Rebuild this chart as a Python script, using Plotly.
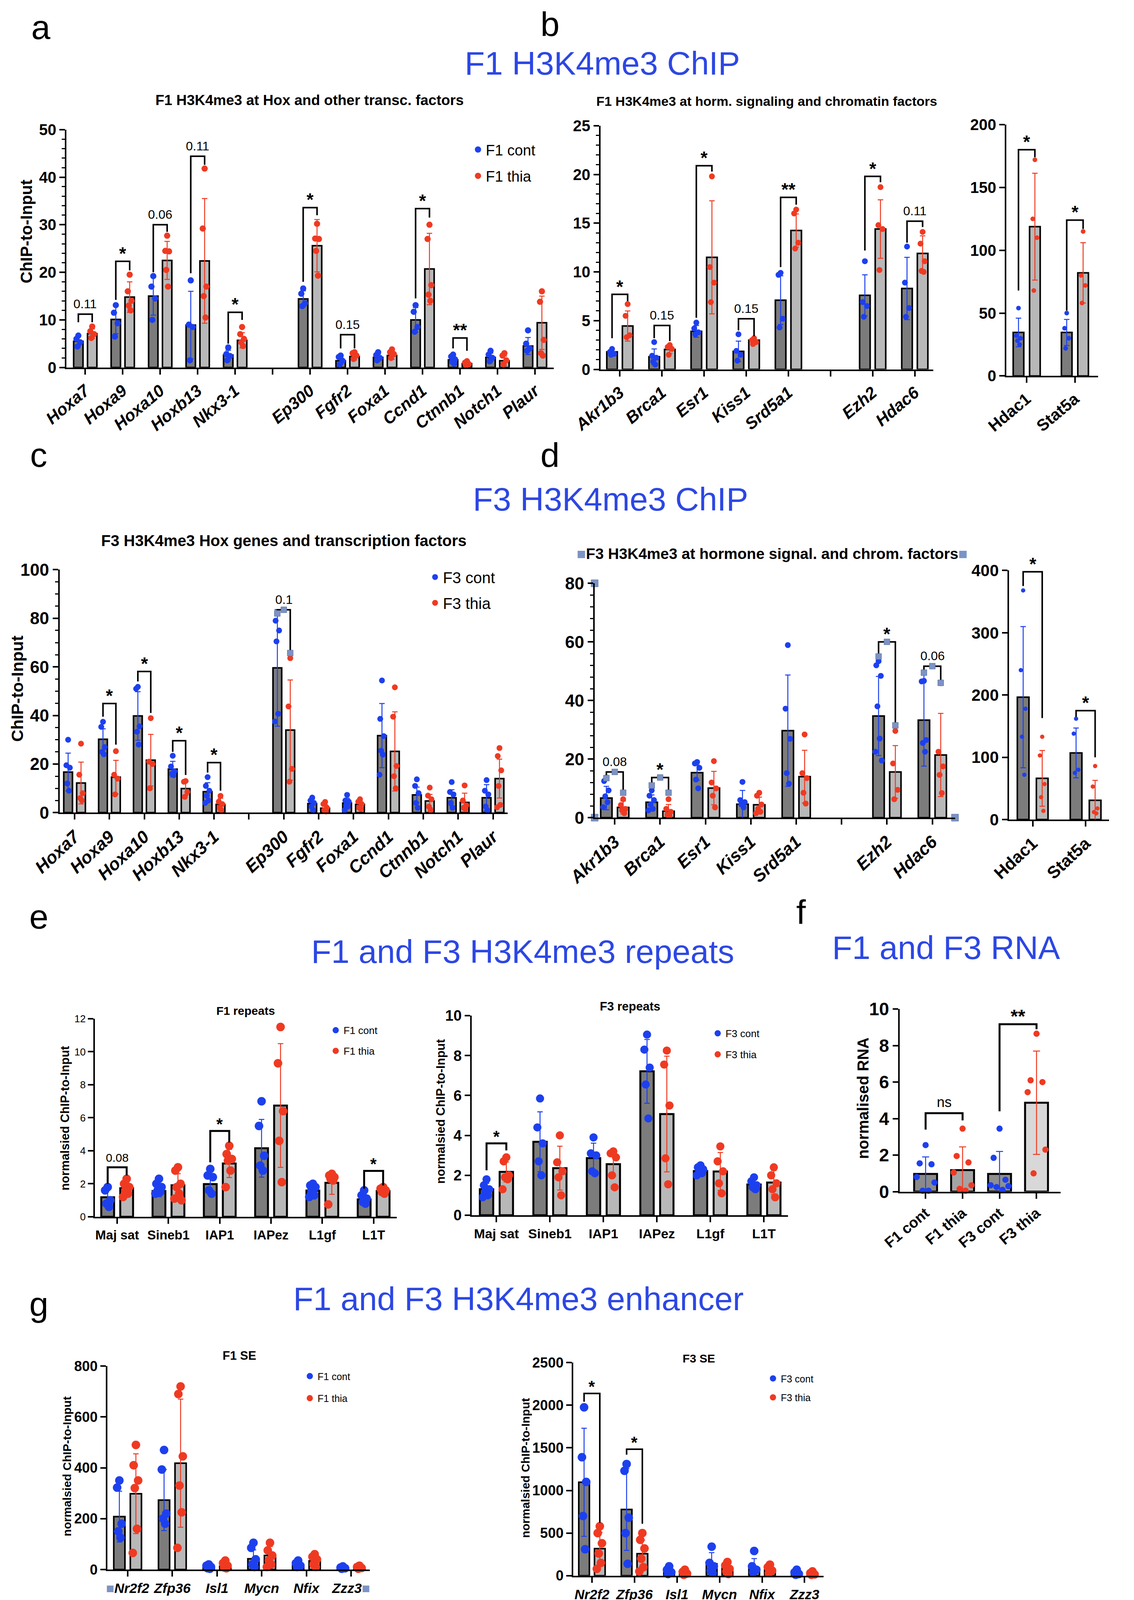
import plotly.graph_objects as go

W, H = 2904, 4146
# the photographed page comes out about 1% larger and offset by the page margin,
# so reference pixel positions are mapped back through this before use
S, O = 1.01, 8
FONT = "Liberation Sans, Arial, sans-serif"
NARROW = "Liberation Sans Narrow, Liberation Sans, Arial, sans-serif"
BLUE = "#1d40ee"
RED = "#ef3a22"
DARK = "#7c7c7c"
LIGHT = "#b8b8b8"
HEAD = "#2c47e4"
HANDLE = "#7c93c4"

# ---------------- a: F1 Hox and other transcription factors
a_genes = ["Hoxa7", "Hoxa9", "Hoxa10", "Hoxb13", "Nkx3-1", "",
           "Ep300", "Fgfr2", "Foxa1", "Ccnd1", "Ctnnb1", "Notch1", "Plaur"]
a_cont = [5.5, 10.1, 15.0, 8.9, 2.6, None, 14.4, 1.4, 2.1, 10.0, 1.6, 2.1, 4.5]
a_cont_sd = [1.0, 3.0, 4.0, 7.1, 1.0, None, 1.7, 0.8, 0.7, 2.6, 0.8, 0.9, 1.8]
a_thia = [7.1, 14.8, 22.5, 22.4, 5.7, None, 25.6, 2.3, 2.5, 20.7, 0.8, 1.4, 9.4]
a_thia_sd = [1.0, 3.2, 4.0, 13.1, 1.6, None, 5.5, 0.7, 0.8, 7.5, 0.35, 1.0, 5.6]
a_cont_pts = [[6.7, 6.0, 5.3, 4.4], [13.1, 11.5, 9.3, 6.5], [19.2, 17.0, 14.5, 10.0],
              [18.3, 9.0, 8.5, 1.5], [4.2, 2.8, 2.4, 1.5], [],
              [16.6, 15.5, 13.5, 12.9], [2.5, 2.2, 1.4, 0.7], [3.2, 2.6, 2.0, 1.5],
              [13.1, 11.7, 8.5, 7.5], [2.7, 2.3, 1.7, 1.2, 0.8], [3.5, 2.7, 2.0, 1.3],
              [7.8, 5.0, 4.0, 3.5]]
a_thia_pts = [[8.6, 7.6, 7.0, 6.2], [19.5, 16.0, 14.0, 13.0, 12.0], [27.7, 24.5, 24.4, 20.5, 17.0],
              [41.8, 29.2, 17.0, 15.0, 10.5], [8.5, 7.0, 6.0, 5.3, 4.5], [],
              [30.2, 27.1, 27.0, 24.5, 19.3], [3.2, 3.0, 2.5, 1.8], [3.8, 3.2, 2.8, 2.0],
              [30.0, 27.0, 17.3, 15.3, 14.0], [1.3, 1.0, 0.7, 0.5], [3.0, 2.5, 1.5, 0.7],
              [16.0, 13.8, 5.8, 3.0, 2.5]]
# (gene index, label, bracket top, left leg end, right leg end)
a_sig = [(0, "0.11", 11.2, 9.5, 9.5), (1, "*", 22.3, 14.2, 20.4), (2, "0.06", 30.0, 20.0, 28.5),
         (3, "0.11", 44.4, 19.8, 42.6), (4, "*", 11.6, 5.0, 10.0), (6, "*", 33.6, 18.0, 32.0),
         (7, "0.15", 6.9, 4.0, 4.0), (9, "*", 33.4, 14.5, 31.5), (10, "**", 6.2, 4.0, 3.5)]

# ---------------- b: F1 hormone signalling and chromatin factors
b_genes = ["Akr1b3", "Brca1", "Esr1", "Kiss1", "Srd5a1", "", "Ezh2", "Hdac6"]
b_cont = [1.8, 1.3, 3.9, 1.85, 7.1, None, 7.6, 8.3]
b_cont_sd = [0.3, 0.8, 0.6, 1.05, 2.5, None, 2.1, 3.2]
b_thia = [4.45, 2.05, 11.5, 3.0, 14.25, None, 14.4, 11.9]
b_thia_sd = [1.55, 0.4, 5.8, 0.25, 1.7, None, 3.0, 1.8]
b_cont_pts = [[2.1, 1.8, 1.6, 1.5], [2.8, 1.4, 1.2, 0.8, 0.5], [4.8, 4.2, 3.8, 3.6],
              [3.6, 1.9, 1.5, 0.9], [9.9, 9.7, 5.2, 4.3], [], [11.1, 6.9, 6.5, 5.4],
              [12.6, 8.9, 6.3, 5.4]]
b_thia_pts = [[6.7, 5.5, 3.5, 3.3], [2.5, 2.3, 2.1, 1.5], [19.8, 10.5, 8.9, 6.9],
              [3.2, 3.0, 2.8, 2.6], [16.4, 16.0, 13.0, 12.4], [], [18.7, 14.8, 14.4, 10.2],
              [14.1, 12.9, 11.1, 10.1, 10.0]]
b_sig = [(0, "*", 7.7, 3.2, 7.0), (1, "0.15", 4.5, 3.2, 2.9), (2, "*", 20.9, 5.3, 20.3),
         (3, "0.15", 5.2, 4.0, 3.4), (4, "**", 17.65, 10.5, 16.9), (6, "*", 19.8, 12.2, 19.2),
         (7, "0.11", 15.2, 13.0, 14.6)]
b2_genes = ["Hdac1", "Stat5a"]
b2_cont = [34.6, 34.6]
b2_cont_sd = [11.4, 10.4]
b2_thia = [118.8, 82.0]
b2_thia_sd = [42.5, 24.0]
b2_cont_pts = [[54, 32, 30, 28, 25], [50, 38, 30, 22]]
b2_thia_pts = [[172, 125, 110, 68], [115, 80, 72, 58]]
b2_sig = [(0, "*", 180, 68, 174), (1, "*", 124, 52, 117)]

# ---------------- c: F3 Hox genes and transcription factors
c_genes = a_genes
c_cont = [16.7, 30.2, 39.8, 17.9, 8.6, None, 59.6, 3.7, 3.9, 31.7, 7.3, 6.1, 6.1]
c_cont_sd = [7.8, 4.3, 10.0, 3.2, 3.7, None, 24.0, 1.8, 2.0, 13.2, 3.2, 3.3, 5.4]
c_thia = [12.2, 14.6, 21.6, 9.9, 3.4, None, 34.0, 1.8, 3.4, 25.2, 4.8, 4.2, 14.0]
c_thia_sd = [8.6, 6.9, 10.6, 2.8, 2.5, None, 20.6, 1.5, 1.5, 16.3, 2.7, 3.8, 8.0]
c_cont_pts = [[30.0, 19.5, 18.5, 12.0, 9.0], [37.4, 35.3, 27.0, 25.0, 24.0],
              [51.8, 51.0, 35.5, 33.3, 28.0], [23.4, 19.0, 17.0, 16.0, 15.4],
              [14.6, 11.0, 9.0, 7.0, 5.0, 4.0], [], [82.0, 79.0, 75.0, 70.5, 40.7, 37.5],
              [6.2, 5.0, 4.0, 2.5, 1.0], [7.3, 5.0, 4.5, 3.0, 2.5, 1.0],
              [54.4, 38.6, 31.5, 25.5, 23.9, 15.6], [13.7, 11.0, 8.0, 4.0, 2.0],
              [12.6, 8.5, 7.5, 4.0, 2.0], [13.4, 9.0, 7.5, 2.5, 1.0]]
c_thia_pts = [[28.4, 15.6, 8.0, 6.0, 5.0], [25.3, 15.6, 14.0, 7.5], [38.9, 21.0, 20.0, 10.0],
              [13.0, 12.7, 8.5, 6.5], [6.9, 4.5, 3.5, 2.0, 1.0], [], [63.6, 43.7, 18.0, 12.7],
              [4.4, 3.5, 2.0, 1.0, 0.5], [5.5, 4.5, 3.5, 2.0, 1.5], [51.6, 39.5, 19.2, 15.0, 10.0],
              [10.3, 7.0, 5.5, 2.5, 1.0], [11.2, 5.0, 3.0, 2.0, 1.5],
              [26.6, 23.3, 17.4, 11.0, 3.2, 2.2]]
c_sig = [(1, "*", 44.9, 39.5, 28.0), (2, "*", 58.1, 54.0, 41.0), (3, "*", 29.6, 25.0, 15.5),
         (4, "*", 20.6, 16.5, 9.0), (6, "0.1", 83.5, 82.0, 65.7, True)]

# ---------------- d: F3 hormone signal and chromatin factors
d_genes = b_genes
d_cont = [6.7, 5.25, 15.35, 4.6, 29.7, None, 34.7, 33.3]
d_cont_sd = [4.0, 2.5, 2.6, 4.7, 19.0, None, 13.5, 15.7]
d_thia = [3.5, 2.2, 10.1, 4.4, 14.0, None, 15.6, 21.4]
d_thia_sd = [2.2, 2.3, 5.7, 2.6, 9.0, None, 9.0, 14.2]
d_cont_pts = [[13.7, 12.5, 9.3, 7.3, 5.3, 3.6], [9.3, 7.5, 6.0, 4.5, 3.0, 2.5],
              [19.0, 18.5, 17.0, 13.0, 10.0], [12.2, 6.0, 5.3, 4.5, 3.5],
              [58.9, 37.2, 26.9, 15.2, 11.6], [], [53.4, 52.0, 48.4, 38.0, 27.0, 22.5, 19.5],
              [46.7, 46.5, 26.5, 25.5, 22.5]]
d_thia_pts = [[6.3, 4.3, 3.0, 2.5, 1.5], [6.3, 3.0, 2.0, 1.0, 0.5], [19.3, 12.0, 10.0, 7.5, 3.5],
              [8.5, 7.5, 4.5, 3.0, 2.0, 1.5], [28.4, 15.2, 13.5, 8.5, 4.8], [],
              [29.6, 18.5, 9.5, 6.3], [45.9, 22.5, 17.5, 14.6, 8.4]]
d_sig = [(0, "0.08", 15.6, 13.5, 8.5, True), (1, "*", 13.7, 11.0, 8.5, True),
         (6, "*", 60.0, 55.0, 31.5, True), (7, "0.06", 51.7, 49.5, 46.0, True)]
d2_genes = ["Hdac1", "Stat5a"]
d2_cont = [196.6, 107.0]
d2_cont_sd = [113.4, 40.0]
d2_thia = [66.2, 31.0]
d2_thia_sd = [44.8, 32.0]
d2_cont_pts = [[368, 240, 178, 133, 72], [162, 138, 80, 75]]
d2_thia_pts = [[133, 103, 57, 36, 14], [86, 53, 18, 12, 10]]
d2_sig = [(0, "*", 398, 375, 163), (1, "*", 175, 165, 100)]

# ---------------- e: repeats
e_reps = ["Maj sat", "Sineb1", "IAP1", "IAPez", "L1gf", "L1T"]
e1_cont = [1.18, 1.56, 1.98, 4.15, 1.59, 1.05]
e1_cont_sd = [0.45, 0.35, 0.6, 1.75, 0.3, 0.3]
e1_thia = [1.73, 1.91, 3.23, 6.74, 2.06, 1.56]
e1_thia_sd = [0.35, 0.7, 0.85, 3.75, 0.7, 0.15]
e1_cont_pts = [[1.8, 1.6, 1.0, 0.8, 0.6], [2.3, 2.0, 1.8, 1.6, 1.5, 1.4], [2.9, 2.5, 2.4, 1.6, 1.4],
               [7.0, 5.5, 3.7, 3.1, 2.8], [2.0, 1.9, 1.8, 1.6, 1.3, 1.2], [1.6, 1.3, 1.1, 0.9, 0.8]]
e1_thia_pts = [[2.3, 2.0, 1.8, 1.6, 1.4, 1.2], [3.0, 2.8, 2.0, 1.8, 1.4, 1.1, 1.0],
               [4.3, 3.8, 3.5, 3.4, 2.8, 1.8], [11.5, 9.3, 6.4, 4.6, 2.1],
               [2.6, 2.5, 2.4, 2.3, 2.2, 0.75], [1.8, 1.7, 1.6, 1.5, 1.4]]
e1_sig = [(0, "0.08", 3.0, 2.0, 2.5), (2, "*", 5.2, 3.3, 4.5), (5, "*", 2.78, 1.7, 1.9)]
e3_cont = [1.3, 3.68, 2.86, 7.21, 2.21, 1.54]
e3_cont_sd = [0.3, 1.5, 0.75, 1.6, 0.2, 0.25]
e3_thia = [2.17, 2.36, 2.56, 5.07, 2.19, 1.64]
e3_thia_sd = [0.5, 1.1, 0.6, 2.9, 0.95, 0.6]
e3_cont_pts = [[1.8, 1.5, 1.3, 1.2, 1.0, 0.9], [5.85, 4.4, 3.6, 2.7, 2.0], [3.9, 3.1, 3.0, 2.2, 2.1],
               [9.05, 8.3, 7.4, 6.55, 4.85], [2.5, 2.4, 2.3, 2.2, 2.1, 2.0], [1.9, 1.7, 1.5, 1.4, 1.3]]
e3_thia_pts = [[2.9, 2.7, 2.0, 1.9, 1.8, 1.3], [4.0, 2.65, 2.2, 1.9, 1.0], [3.2, 3.1, 2.9, 2.0, 1.4],
               [8.25, 7.55, 5.5, 2.85, 1.55], [3.45, 2.7, 2.2, 1.6, 1.1], [2.4, 2.0, 1.6, 1.3, 0.9]]
e3_sig = [(0, "*", 3.6, 2.25, 3.25)]

# ---------------- f: RNA
f_groups = ["F1 cont", "F1 thia", "F3 cont", "F3 thia"]
f_mean = [0.97, 1.18, 0.97, 4.87]
f_sd = [0.93, 1.27, 1.23, 2.83]
f_pts = [[2.55, 1.55, 1.5, 0.8, 0.5, 0.05, 0.05], [3.45, 1.95, 1.6, 1.05, 0.35, 0.15, 0.05],
         [3.45, 1.85, 0.65, 0.35, 0.3, 0.25, 0.1], [8.65, 6.1, 6.0, 5.45, 2.3, 1.0]]
f_fill = ["#8a8a8a", "#a4a4a4", "#8f8f8f", "#d8d8d8"]
f_dot = [BLUE, RED, BLUE, RED]
# (left group, right group, label, top, left leg end, right leg end)
f_sig = [(0, 1, "ns", 4.3, 3.4, 3.9), (2, 3, "**", 9.17, 4.4, 8.9)]

# ---------------- g: super-enhancers
g_genes = ["Nr2f2", "Zfp36", "Isl1", "Mycn", "Nfix", "Zzz3"]
g1_cont = [208, 273, 8, 42, 18, 5]
g1_cont_sd = [100, 120, 8, 35, 12, 4]
g1_thia = [298, 418, 12, 55, 34, 6]
g1_thia_sd = [157, 252, 12, 35, 22, 5]
g1_cont_pts = [[350, 322, 180, 150, 125], [470, 393, 220, 200, 180], [20, 15, 10, 5, 3],
               [105, 85, 40, 20, 10], [35, 25, 15, 10], [12, 8, 5, 3]]
g1_thia_pts = [[490, 410, 350, 320, 160, 65], [720, 690, 445, 330, 225, 85], [35, 25, 15, 8, 5],
               [105, 75, 55, 35, 20, 10], [60, 50, 40, 20, 10], [15, 10, 6, 3]]
g3_cont = [1096, 777, 47, 139, 88, 30]
g3_cont_sd = [634, 480, 40, 131, 112, 25]
g3_thia = [317, 258, 30, 88, 67, 26]
g3_thia_sd = [190, 160, 25, 60, 45, 20]
g3_cont_pts = [[1975, 1390, 1100, 700, 310], [1310, 1230, 680, 500, 140], [110, 70, 40, 20],
               [340, 150, 110, 60, 30], [290, 110, 70, 40], [70, 40, 20, 10]]
g3_thia_pts = [[580, 500, 380, 260, 150, 80], [500, 420, 320, 200, 100, 50], [70, 45, 25, 10],
               [160, 120, 80, 50, 20], [130, 100, 60, 30], [50, 30, 15, 10]]
g3_sig = [(0, "*", 2138, 2040, 620), (1, "*", 1484, 1420, 610)]

fig = go.Figure()
ann = []
JIT = [0.0, -0.2, 0.2, -0.1, 0.1, -0.28, 0.28]


def fx(p):
    return (p - O) / S / W


def fy(p):
    return 1 - (p - O) / S / H


def F(size, bold=True, italic=False, color="black", family=FONT):
    return dict(family=family, size=size, color=color,
                weight="bold" if bold else "normal", style="italic" if italic else "normal")


def ax_id(n):
    return ("x", "y") if n == 1 else (f"x{n}", f"y{n}")


def text(x, y, s, font, angle=0):
    ann.append(dict(x=fx(x), y=fy(y), xref="paper", yref="paper", text=s, showarrow=False,
                    xanchor="center", yanchor="middle", textangle=angle, font=font))


def add_axes(n, box, xr, yr, cats, dtick, xfont, yfont, angle=-40, minor=None, lw=4):
    left, top, right, bottom = box
    xa, ya = ax_id(n)
    key = "" if n == 1 else str(n)
    common = dict(showline=True, linecolor="black", linewidth=lw, ticks="outside",
                  tickcolor="black", tickwidth=lw, ticklen=14, showgrid=False,
                  zeroline=False, fixedrange=True, automargin=False)
    xax = dict(domain=[fx(left), fx(right)], range=xr, anchor=ya, tickmode="array",
               tickvals=list(range(len(cats))), ticktext=cats, tickangle=angle,
               tickfont=xfont, **common)
    yax = dict(domain=[fy(bottom), fy(top)], range=yr, anchor=xa, tick0=0,
               dtick=dtick, tickfont=yfont, **common)
    if minor:
        yax["minor"] = dict(dtick=minor, ticks="outside", ticklen=8, tickwidth=3,
                            tickcolor="black", showgrid=False)
    fig.update_layout(**{"xaxis" + key: xax, "yaxis" + key: yax})


def bracket(n, x0, x1, top, l, r, label, star=46, num=32, handles=False, lw=4):
    xa, ya = ax_id(n)
    fig.add_scatter(x=[x0, x0, x1, x1], y=[l, top, top, r], mode="lines",
                    line=dict(color="black", width=lw), xaxis=xa, yaxis=ya,
                    showlegend=False, hoverinfo="skip")
    if handles:
        fig.add_scatter(x=[x0, (x0 + x1) / 2, x1], y=[l, top, r], mode="markers",
                        marker=dict(symbol="square", size=15, color=HANDLE,
                                    line=dict(color="#5b6f9c", width=1)),
                        cliponaxis=False, xaxis=xa, yaxis=ya, showlegend=False,
                        hoverinfo="skip")
    is_star = label.startswith("*")
    ann.append(dict(x=(x0 + x1) / 2, y=top, xref=xa, yref=ya, text=label, showarrow=False,
                    xanchor="center", yanchor="bottom", yshift=-8 if is_star else 6,
                    font=F(star, bold=True) if is_star else F(num, bold=False, family=NARROW)))


def add_bars(n, cont, cont_sd, thia, thia_sd, cont_pts, thia_pts, sig, names=("", ""),
             legend=None, msize=16, off=0.185, bw=0.25, lw=4, star=46, num=32):
    xa, ya = ax_id(n)
    idx = [i for i, v in enumerate(cont) if v is not None]
    for vals, sd, sh, fill, col in ((cont, cont_sd, -off, DARK, BLUE),
                                    (thia, thia_sd, off, LIGHT, RED)):
        fig.add_bar(x=[i + sh for i in idx], y=[vals[i] for i in idx], width=bw,
                    marker=dict(color=fill, line=dict(color="black", width=lw)),
                    error_y=dict(type="data", array=[sd[i] for i in idx], color=col,
                                 thickness=2.5, width=7),
                    xaxis=xa, yaxis=ya, showlegend=False, hoverinfo="skip")
    for pts, sh, col, name in ((cont_pts, -off, BLUE, names[0]), (thia_pts, off, RED, names[1])):
        xs, ys = [], []
        for i in idx:
            for k, v in enumerate(pts[i]):
                xs.append(i + sh + JIT[k % len(JIT)] * bw)
                ys.append(v)
        fig.add_scatter(x=xs, y=ys, mode="markers", marker=dict(color=col, size=msize),
                        cliponaxis=False, xaxis=xa, yaxis=ya, name=name, legendgroup=name,
                        showlegend=legend is not None, legend=legend or "legend",
                        hoverinfo="skip")
    for s in sig:
        i, label, top, l, r = s[:5]
        bracket(n, i - off, i + off, top, l, r, label, star=star, num=num,
                handles=len(s) > 5, lw=lw)


def legend_box(key, x, y, size, gap):
    fig.update_layout(**{key: dict(x=fx(x), y=fy(y), xanchor="left", yanchor="top",
                                   font=dict(family=NARROW, size=size, color="black"),
                                   bgcolor="rgba(0,0,0,0)", borderwidth=0,
                                   tracegroupgap=gap, itemsizing="trace")})


# ---- panel a
add_axes(1, (172, 335, 1432, 950), [-0.5, 12.5], [0, 50], a_genes, 10,
         F(43, italic=True), F(40), minor=2)
add_bars(1, a_cont, a_cont_sd, a_thia, a_thia_sd, a_cont_pts, a_thia_pts, a_sig,
         names=("F1 cont", "F1 thia"), legend="legend", msize=16)
legend_box("legend", 1216, 355, 38, 15)

# ---- panel b
add_axes(2, (1553, 325, 2414, 955), [-0.46, 7.44], [0, 25], b_genes, 5,
         F(43, italic=True), F(40), minor=1)
add_bars(2, b_cont, b_cont_sd, b_thia, b_thia_sd, b_cont_pts, b_thia_pts, b_sig, msize=15)
add_axes(3, (2603, 322, 2840, 972), [-0.42, 1.48], [0, 200], b2_genes, 50, F(42), F(40))
add_bars(3, b2_cont, b2_cont_sd, b2_thia, b2_thia_sd, b2_cont_pts, b2_thia_pts, b2_sig,
         msize=12, off=0.17, bw=0.22)

# ---- panel c
add_axes(4, (154, 1473, 1313, 2101), [-0.43, 12.42], [0, 100], c_genes, 20,
         F(45, italic=True), F(44), angle=-43, minor=5)
add_bars(4, c_cont, c_cont_sd, c_thia, c_thia_sd, c_cont_pts, c_thia_pts, c_sig,
         names=("F3 cont", "F3 thia"), legend="legend2", msize=15)
legend_box("legend2", 1105, 1459, 40, 11)

# ---- panel d
add_axes(5, (1538, 1508, 2470, 2114), [-0.443, 7.5], [0, 80], d_genes, 20,
         F(45, italic=True), F(44), angle=-43, minor=4)
add_bars(5, d_cont, d_cont_sd, d_thia, d_thia_sd, d_cont_pts, d_thia_pts, d_sig, msize=15)
fig.add_scatter(x=[-0.443, -0.443, 7.5], y=[80, 0, 0], mode="markers",
                marker=dict(symbol="square", size=18, color=HANDLE, line=dict(color="#5b6f9c", width=1)),
                cliponaxis=False, xaxis="x5", yaxis="y5", showlegend=False, hoverinfo="skip")
add_axes(6, (2610, 1475, 2868, 2119), [-0.445, 1.44], [0, 400], d2_genes, 100, F(44), F(42),
         angle=-43)
add_bars(6, d2_cont, d2_cont_sd, d2_thia, d2_thia_sd, d2_cont_pts, d2_thia_pts, d2_sig,
         msize=11, off=0.18, bw=0.22)

# ---- panel e
add_axes(7, (245, 2634, 1026, 3146), [-0.437, 5.45], [0, 12], e_reps, 2,
         F(33), F(26, bold=False, family=NARROW), angle=0)
add_bars(7, e1_cont, e1_cont_sd, e1_thia, e1_thia_sd, e1_cont_pts, e1_thia_pts, e1_sig,
         names=("F1 cont", "F1 thia"), legend="legend3", msize=22, lw=5, star=42, num=30)
legend_box("legend3", 848, 2640, 26, 16)
add_axes(8, (1220, 2626, 2038, 3142), [-0.462, 5.45], [0, 10], e_reps, 2,
         F(34), F(38), angle=0)
add_bars(8, e3_cont, e3_cont_sd, e3_thia, e3_thia_sd, e3_cont_pts, e3_thia_pts, e3_sig,
         names=("F3 cont", "F3 thia"), legend="legend4", msize=21, lw=5, star=42)
legend_box("legend4", 1836, 2648, 26, 17)

# ---- panel f
add_axes(9, (2327, 2609, 2743, 3081), [-0.7, 3.65], [0, 10], f_groups, 2, F(38), F(46))
JIT_F = [0.0, -0.16, 0.16, -0.24, 0.24, -0.08, 0.08]
for i, g in enumerate(f_groups):
    fig.add_bar(x=[i], y=[f_mean[i]], width=0.62,
                marker=dict(color=f_fill[i], line=dict(color="black", width=5)),
                error_y=dict(type="data", array=[f_sd[i]], color=f_dot[i], thickness=2.5, width=9),
                xaxis="x9", yaxis="y9", showlegend=False, hoverinfo="skip")
    fig.add_scatter(x=[i + JIT_F[k % len(JIT_F)] for k in range(len(f_pts[i]))], y=f_pts[i],
                    mode="markers", marker=dict(color=f_dot[i], size=16), cliponaxis=False,
                    xaxis="x9", yaxis="y9", showlegend=False, hoverinfo="skip")
for i0, i1, label, top, l, r in f_sig:
    bracket(9, i0, i1, top, l, r, label, star=48, num=36, lw=5)

# ---- panel g
hs = "<span style='color:%s'>■</span>" % HANDLE
g1_ticks = [hs + g_genes[0]] + g_genes[1:-1] + [g_genes[-1] + hs]
add_axes(10, (278, 3532, 956, 4058), [-0.45, 5.415], [0, 800], g1_ticks, 200,
         F(35, italic=True), F(36, family=NARROW), angle=0)
add_bars(10, g1_cont, g1_cont_sd, g1_thia, g1_thia_sd, g1_cont_pts, g1_thia_pts, [],
         names=("F1 cont", "F1 thia"), legend="legend5", msize=22)
legend_box("legend5", 781, 3535, 25, 21)
add_axes(11, (1483, 3523, 2130, 4074), [-0.436, 5.446], [0, 2500], g_genes, 500,
         F(35, italic=True), F(36, family=NARROW), angle=0)
add_bars(11, g3_cont, g3_cont_sd, g3_thia, g3_thia_sd, g3_cont_pts, g3_thia_pts, g3_sig,
         names=("F3 cont", "F3 thia"), legend="legend6", msize=22, star=42)
legend_box("legend6", 1979, 3541, 25, 13)

# ---- headings, panel letters, subplot titles, y titles
for s, x, y in (("F1 H3K4me3 ChIP", 1558, 164), ("F3 H3K4me3 ChIP", 1579, 1291),
                ("F1 and F3 H3K4me3 repeats", 1352, 2460), ("F1 and F3 RNA", 2447, 2450),
                ("F1 and F3 H3K4me3 enhancer", 1341, 3358)):
    text(x, y, s, F(84, bold=False, color=HEAD))
for s, x, y in (("a", 105, 70), ("b", 1423, 62), ("c", 100, 1176), ("d", 1423, 1176),
                ("e", 100, 2370), ("f", 2072, 2358), ("g", 100, 3372)):
    text(x, y, s, F(88, bold=False))
for s, x, y, size in (("F1 H3K4me3 at Hox and other transc. factors", 801, 259, 37),
                      ("F1 H3K4me3 at horm. signaling and chromatin factors", 1983, 262, 34),
                      ("F3 H3K4me3 Hox genes and transcription factors", 734, 1398, 40),
                      (hs + "F3 H3K4me3 at hormone signal. and chrom. factors" + hs, 1997, 1432, 39),
                      ("F1 repeats", 635, 2613, 30), ("F3 repeats", 1630, 2602, 31),
                      ("F1 SE", 619, 3505, 31), ("F3 SE", 1807, 3512, 30)):
    text(x, y, s, F(size, family=NARROW))
for s, x, y, size in (("ChIP-to-Input", 68, 598, 42), ("ChIP-to-Input", 45, 1781, 43),
                      ("normalsied ChIP-to-Input", 168, 2891, 31),
                      ("normalsied ChIP-to-Input", 1140, 2874, 31),
                      ("normalised RNA", 2232, 2839, 40),
                      ("normalsied ChIP-to-Input", 173, 3791, 30),
                      ("normalsied ChIP-to-Input", 1359, 3796, 30)):
    text(x, y, s, F(size), angle=-90)

fig.update_layout(width=W, height=H, margin=dict(l=0, r=0, t=0, b=0, autoexpand=False),
                  barmode="overlay", paper_bgcolor="white", plot_bgcolor="white",
                  annotations=ann, font=dict(family=FONT, color="black"))

fig.write_html("out.html")
